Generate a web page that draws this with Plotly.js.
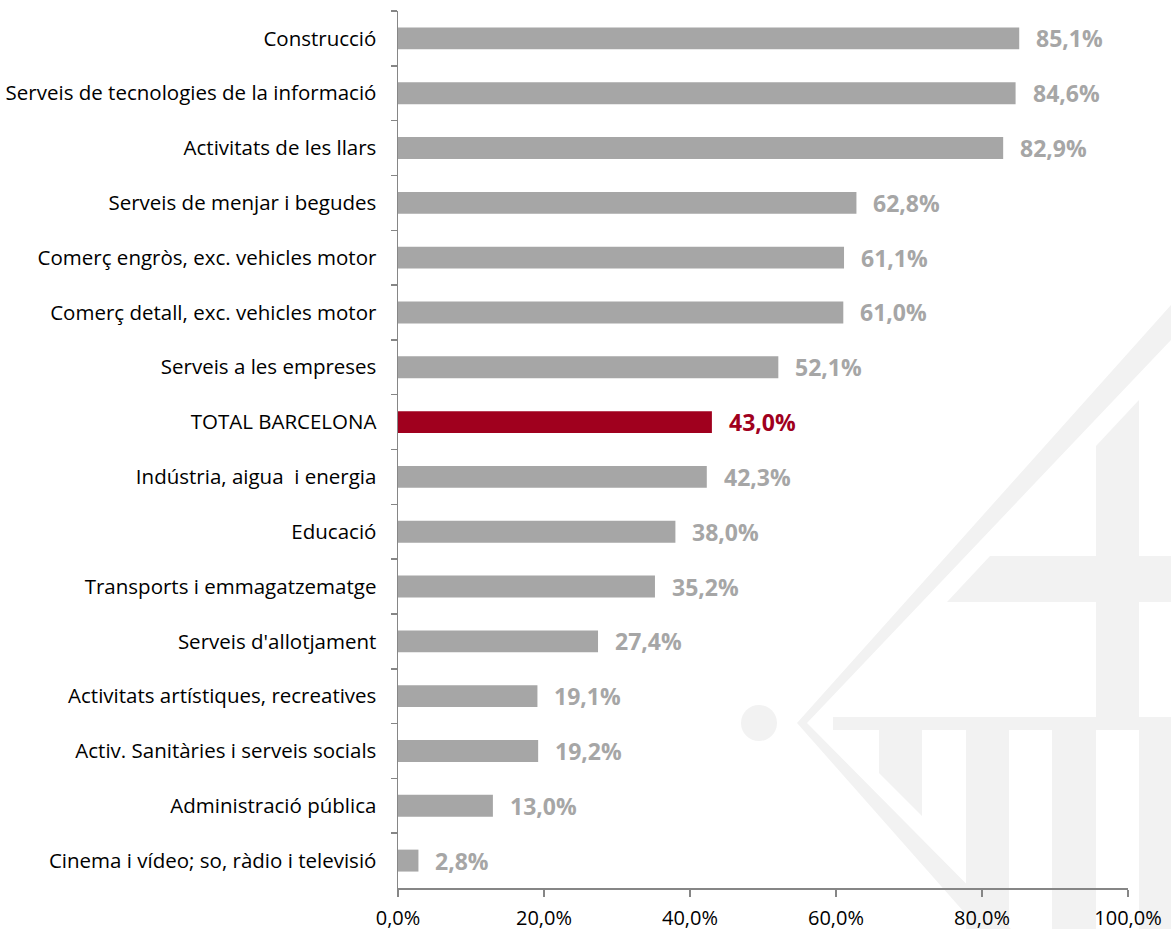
<!DOCTYPE html>
<html>
<head>
<meta charset="utf-8">
<script src="https://cdn.plot.ly/plotly-3.0.1.min.js"></script>
<style>html,body{margin:0;padding:0;background:#fff}#chart{width:1171px;height:929px}</style>
</head>
<body>
<div id="chart"></div>
<script>
const categories = [
  "Construcció",
  "Serveis de tecnologies de la informació",
  "Activitats de les llars",
  "Serveis de menjar i begudes",
  "Comerç engròs, exc. vehicles motor",
  "Comerç detall, exc. vehicles motor",
  "Serveis a les empreses",
  "TOTAL BARCELONA",
  "Indústria, aigua  i energia",
  "Educació",
  "Transports i emmagatzematge",
  "Serveis d'allotjament",
  "Activitats artístiques, recreatives",
  "Activ. Sanitàries i serveis socials",
  "Administració pública",
  "Cinema i vídeo; so, ràdio i televisió"
];
const values = [85.1, 84.6, 82.9, 62.8, 61.1, 61.0, 52.1, 43.0, 42.3, 38.0, 35.2, 27.4, 19.1, 19.2, 13.0, 2.8];
const highlightCategory = "TOTAL BARCELONA";
const xTickValues = [0, 20, 40, 60, 80, 100];

const GREY = "#A6A6A6";
const RED = "#A0001E";
const barColors = categories.map(c => c === highlightCategory ? RED : GREY);

const fmt = v => v.toFixed(1).replace(".", ",") + "%";
const xTickText = xTickValues.map(fmt);

const annotations = categories.map((c, i) => ({
  x: values[i], y: c, xref: "x", yref: "y",
  text: fmt(values[i]), showarrow: false,
  xanchor: "left", yanchor: "middle", xshift: 15,
  font: {family: "Open Sans", size: 23, color: barColors[i], weight: 700}
}));

// decorative watermark (pixel -> paper helper)
const L = 398, R = 1128, T = 11, B = 888;
const P = (x, y) => [(x - L) / (R - L), (B - y) / (B - T)];
const poly = pts => "M" + pts.map(p => P(p[0], p[1]).join(",")).join(" L") + " Z";
const WM = "#F2F2F2";
const wmPolys = [
  [[1171,305],[797,723],[979,929],[1011,929],[807,723],[1171,340]],
  [[833,717],[1171,717],[1171,730],[833,730]],
  [[879,730],[922,730],[922,816],[879,773]],
  [[966,730],[1009,730],[1009,929],[966,929]],
  [[1052,730],[1096,730],[1096,929],[1052,929]],
  [[1139,730],[1171,730],[1171,929],[1139,929]],
  [[1096,446],[1139,400],[1139,717],[1096,717]],
  [[947,602],[990,556],[1171,556],[1171,602]]
];
const shapes = wmPolys.map(p => ({
  type: "path", xref: "paper", yref: "paper", layer: "below",
  path: poly(p), fillcolor: WM, line: {width: 0}
}));
const c0 = P(741, 705), c1 = P(777, 741);
shapes.push({type: "circle", xref: "paper", yref: "paper", layer: "below",
  x0: c0[0], y0: c1[1], x1: c1[0], y1: c0[1], fillcolor: WM, line: {width: 0}});

const trace = {
  type: "bar", orientation: "h",
  x: values, y: categories,
  marker: {color: barColors, line: {width: 0}},
  width: 0.4, hoverinfo: "skip"
};

const layout = {
  width: 1171, height: 929,
  margin: {l: L, r: 1171 - R, t: T, b: 929 - B, pad: 0},
  paper_bgcolor: "rgba(0,0,0,0)", plot_bgcolor: "rgba(0,0,0,0)",
  showlegend: false,
  font: {family: "Open Sans", size: 20, color: "#000"},
  xaxis: {
    range: [0, 100], tickmode: "array", tickvals: xTickValues, ticktext: xTickText,
    showgrid: false, zeroline: false, showline: true, linecolor: "#868686", linewidth: 1.5,
    ticks: "outside", ticklen: 7, tickcolor: "#868686", tickwidth: 1.5,
    ticklabelstandoff: 4,
    tickfont: {family: "Open Sans", size: 20, color: "#000"}, fixedrange: true
  },
  yaxis: {
    type: "category", autorange: "reversed",
    showgrid: false, zeroline: false, showline: true, linecolor: "#868686", linewidth: 1.5,
    ticks: "outside", tickson: "boundaries", ticklen: 6, tickcolor: "#868686", tickwidth: 1.5,
    ticklabelstandoff: 16,
    tickfont: {family: "Open Sans", size: 20.5, color: "#000"}, fixedrange: true
  },
  annotations: annotations,
  shapes: shapes
};

Plotly.newPlot("chart", [trace], layout, {displayModeBar: false, staticPlot: true});
</script>
</body>
</html>
